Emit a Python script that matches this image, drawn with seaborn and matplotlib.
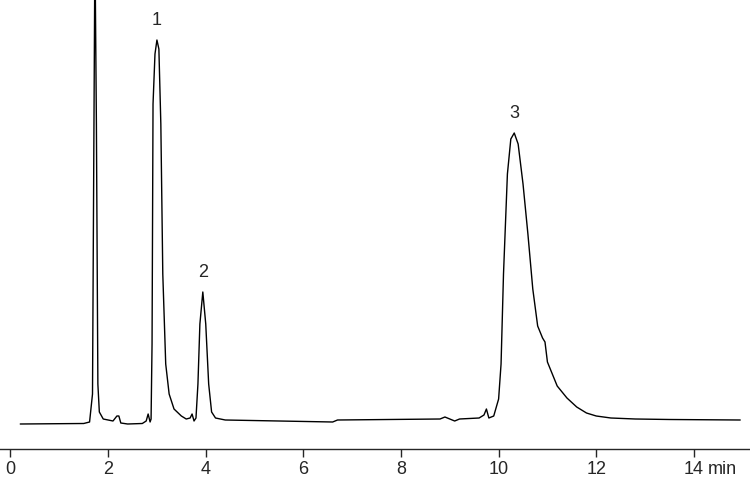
import numpy as np
import pandas as pd
import matplotlib
matplotlib.use("Agg")
import matplotlib.pyplot as plt
import seaborn as sns

# retention time (min) and detector signal (arbitrary units)
time = [0.2, 1.5, 1.62, 1.68, 1.71, 1.73, 1.76, 1.79, 1.82, 1.9, 2.0, 2.1, 2.18, 2.22, 2.26, 2.4,
        2.7, 2.78, 2.82, 2.86, 2.88, 2.9, 2.92, 2.96, 3.0, 3.04, 3.08, 3.12, 3.18, 3.25, 3.35,
        3.5, 3.6, 3.68, 3.72, 3.76, 3.8, 3.84, 3.88, 3.94, 4.0, 4.06, 4.12, 4.2, 4.4, 6.6, 6.7,
        8.8, 8.9, 9.0, 9.1, 9.2, 9.6, 9.7, 9.75, 9.8, 9.9, 10.0, 10.05, 10.1, 10.18, 10.25,
        10.32, 10.4, 10.5, 10.6, 10.7, 10.8, 10.9, 10.95, 11.0, 11.2, 11.4, 11.6, 11.8, 12.0,
        12.3, 12.8, 13.5, 14.95]
signal = [0, 0.5, 2, 30, 300, 480, 300, 40, 12, 5, 4, 3, 8, 8, 1, 0,
          0.5, 3, 10, 2, 5, 80, 320, 370, 384, 375, 300, 150, 60, 30, 15,
          8, 5, 6, 10, 3, 6, 40, 100, 132, 100, 40, 12, 6, 4, 2, 4,
          5, 7, 5, 3, 5, 6, 9, 15, 6, 8, 25, 60, 150, 250, 285,
          291, 280, 240, 190, 135, 98, 86, 82, 62, 38, 26, 17, 11, 8,
          6, 5, 4.5, 4]

peak_labels = ["1", "2", "3"]
peak_times = [3.0, 3.94, 10.32]
peak_heights = [384, 132, 291]

tick_pos = [0, 2, 4, 6, 8, 10, 12, 14]
tick_text = ["0", "2", "4", "6", "8", "10", "12", "14"]

df = pd.DataFrame({"time": time, "signal": signal})

sns.set_style("white")
plt.rcParams['font.family'] = ['Liberation Sans', 'DejaVu Sans']

fig = plt.figure(figsize=(7.5, 4.82), dpi=100)
ax = fig.add_axes([0, 33 / 482, 1, 449 / 482])
sns.lineplot(data=df, x="time", y="signal", ax=ax, color="black", linewidth=1.0)

for lab, t, h in zip(peak_labels, peak_times, peak_heights):
    ax.annotate(lab, (t, h), xytext=(0, 8), textcoords="offset points",
                ha="center", va="bottom", fontsize=13)

ax.set_xlim(-0.215, 15.15)
ax.set_ylim(-25, 424)
ax.set_xticks(tick_pos)
ax.set_xticklabels(tick_text, fontsize=13)
ax.text(14.3, -25, "min", transform=ax.transData, fontsize=13, ha="left", va="top")
ax.texts[-1].set_y(-25)
ax.set_yticks([])
ax.set_xlabel("")
ax.set_ylabel("")
for s in ["top", "left", "right"]:
    ax.spines[s].set_visible(False)
ax.spines["bottom"].set_linewidth(1.0)
ax.tick_params(axis="x", direction="out", length=6, width=1, pad=3, bottom=True)
# put "min" in line with the tick labels
lbl = ax.texts[-1]
lbl.set_position((14.28, -25))
lbl.set_transform(ax.transData)
from matplotlib.transforms import offset_copy
lbl.set_transform(offset_copy(ax.transData, fig=fig, x=0, y=-9, units="points"))

fig.savefig("out.png", dpi=100)
